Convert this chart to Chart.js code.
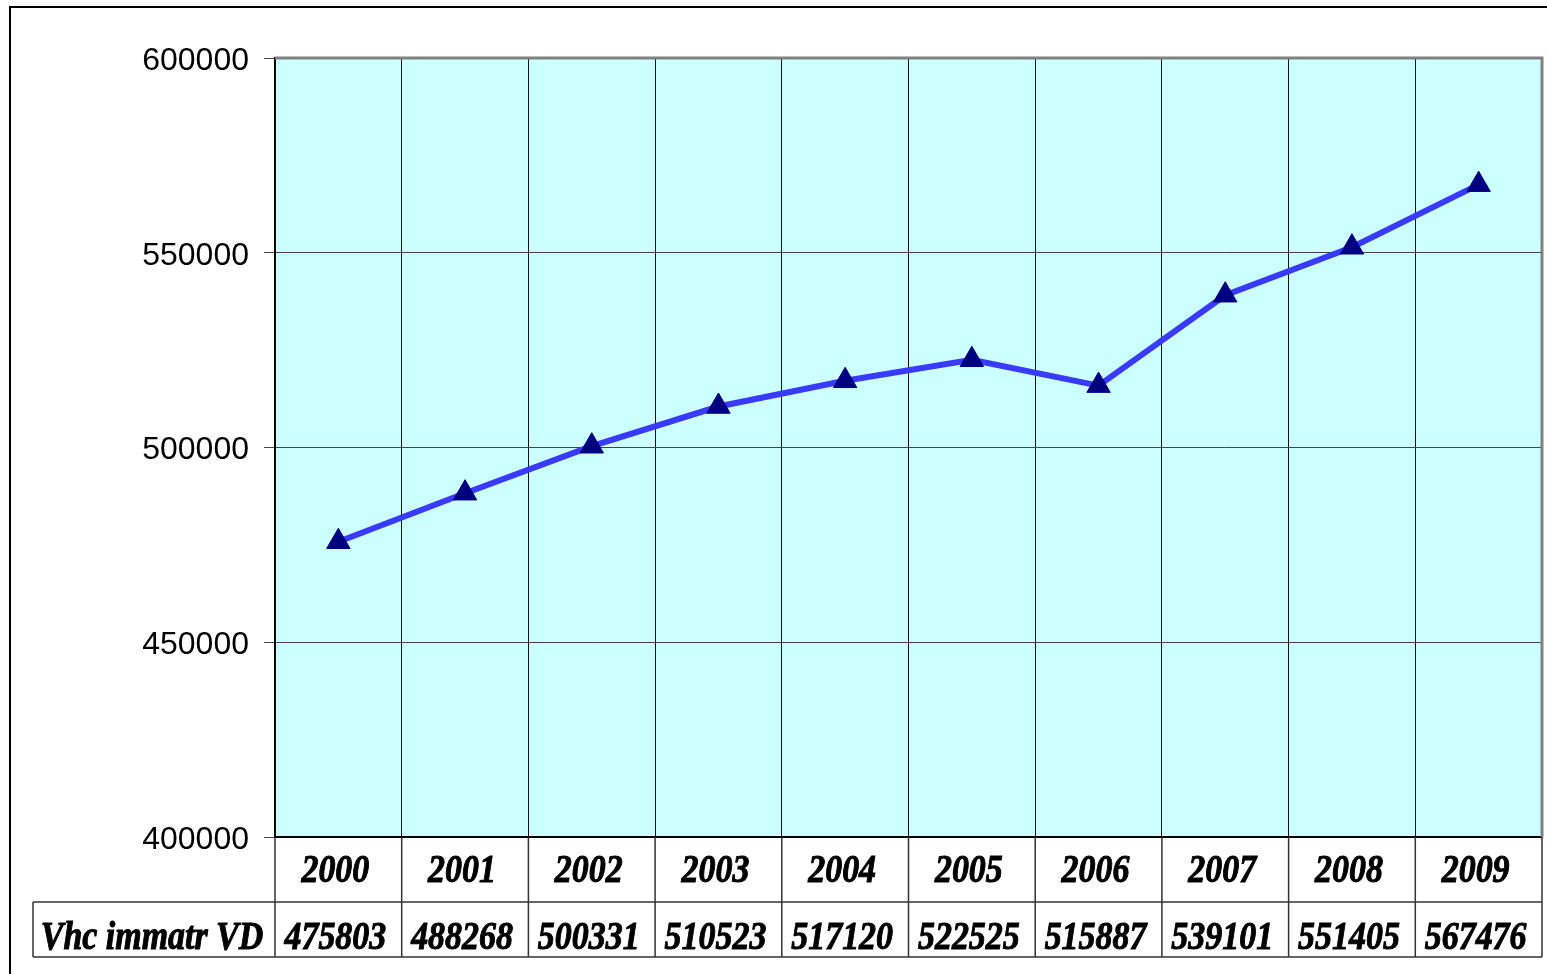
<!DOCTYPE html>
<html>
<head>
<meta charset="utf-8">
<script src="https://cdn.jsdelivr.net/npm/chart.js@4"></script>
<style>
  html, body { margin: 0; padding: 0; background: #fff; }
  canvas { display: block; }
</style>
</head>
<body>
<canvas id="chart" width="1547" height="974"></canvas>
<script>
const years = ['2000', '2001', '2002', '2003', '2004', '2005', '2006', '2007', '2008', '2009']
const vehicles = [475803, 488268, 500331, 510523, 517120, 522525, 515887, 539101, 551405, 567476]
const seriesName = 'Vhc immatr VD'
const yTicks = [400000, 450000, 500000, 550000, 600000]

const tableFont = 'italic bold 39px "Liberation Serif", "Times New Roman", serif'

// plot background, frame and the data table under the axis
const excelLook = {
  id: 'excelLook',
  beforeDraw(chart) {
    const {ctx, chartArea: {left, top, right, bottom}} = chart
    ctx.save()
    ctx.fillStyle = '#CCFFFF'
    ctx.fillRect(left, top, right - left, bottom - top)
    ctx.restore()
  },
  afterDraw(chart) {
    const {ctx, chartArea: {left, top, right, bottom}} = chart
    const x = chart.scales.x
    const half = (x.getPixelForValue(1) - x.getPixelForValue(0)) / 2
    const row1 = bottom + 65
    const row2 = bottom + 120
    const headLeft = 33

    ctx.save()
    // gray plot border top/right
    ctx.strokeStyle = '#808080'
    ctx.lineWidth = 3
    ctx.beginPath()
    ctx.moveTo(left, top)
    ctx.lineTo(right, top)
    ctx.lineTo(right, bottom)
    ctx.stroke()

    // table grid
    ctx.strokeStyle = '#333'
    ctx.lineWidth = 1.5
    ctx.beginPath()
    ctx.moveTo(headLeft, row1); ctx.lineTo(right, row1)
    ctx.moveTo(headLeft, row2); ctx.lineTo(right, row2)
    ctx.moveTo(headLeft, row1); ctx.lineTo(headLeft, row2)
    years.forEach((y, i) => {
      const cx = x.getPixelForValue(i)
      ctx.moveTo(cx - half, bottom); ctx.lineTo(cx - half, row2)
    })
    ctx.moveTo(right, bottom); ctx.lineTo(right, row2)
    ctx.stroke()

    // table text, condensed and heavy like the original
    ctx.fillStyle = '#000'
    ctx.strokeStyle = '#000'
    ctx.lineWidth = 1
    ctx.font = tableFont
    ctx.textAlign = 'center'
    ctx.textBaseline = 'middle'
    const put = (txt, cx, cy) => {
      ctx.save()
      ctx.translate(cx, cy)
      ctx.scale(0.87, 1)
      ctx.fillText(txt, 0, 0)
      ctx.strokeText(txt, 0, 0)
      ctx.restore()
    }
    years.forEach((y, i) => {
      const cx = x.getPixelForValue(i) - 3
      put(y, cx, bottom + 35)
      put(String(vehicles[i]), cx, row1 + 37)
    })
    put(seriesName, (headLeft + left) / 2 - 2, row1 + 37)

    // outer chart frame
    ctx.strokeStyle = '#000'
    ctx.lineWidth = 2
    ctx.beginPath()
    ctx.moveTo(10, chart.height)
    ctx.lineTo(10, 7)
    ctx.lineTo(chart.width, 7)
    ctx.stroke()
    ctx.restore()
  }
}

new Chart(document.getElementById('chart'), {
  type: 'line',
  data: {
    labels: years,
    datasets: [{
      label: seriesName,
      data: vehicles,
      borderColor: '#3A3AFF',
      borderWidth: 6,
      tension: 0,
      pointStyle: 'triangle',
      pointRadius: 13.5,
      pointBackgroundColor: '#000080',
      pointBorderColor: '#000080',
      pointBorderWidth: 1
    }]
  },
  options: {
    responsive: false,
    animation: false,
    devicePixelRatio: 1,
    layout: {
      autoPadding: false,
      padding: {top: 58, right: 5, left: 0, bottom: 0}
    },
    scales: {
      x: {
        type: 'category',
        offset: true,
        grid: {
          offset: true,
          color: '#111',
          lineWidth: 1,
          drawTicks: false
        },
        border: {color: '#000', width: 2},
        ticks: {display: false},
        afterFit(scale) { scale.height = 137 }
      },
      y: {
        min: 400000,
        max: 600000,
        afterBuildTicks(scale) { scale.ticks = yTicks.map(v => ({value: v})) },
        grid: {
          color: '#444',
          lineWidth: 1,
          tickLength: 11
        },
        border: {color: '#000', width: 1.5},
        ticks: {
          color: '#000',
          padding: 15,
          labelOffset: 3,
          font: {family: '"Liberation Sans", Arial, sans-serif', size: 32},
          callback: v => String(v)
        },
        afterFit(scale) { scale.width = 275 }
      }
    },
    plugins: {
      legend: {display: false},
      tooltip: {enabled: false}
    }
  },
  plugins: [excelLook]
})
</script>
</body>
</html>
